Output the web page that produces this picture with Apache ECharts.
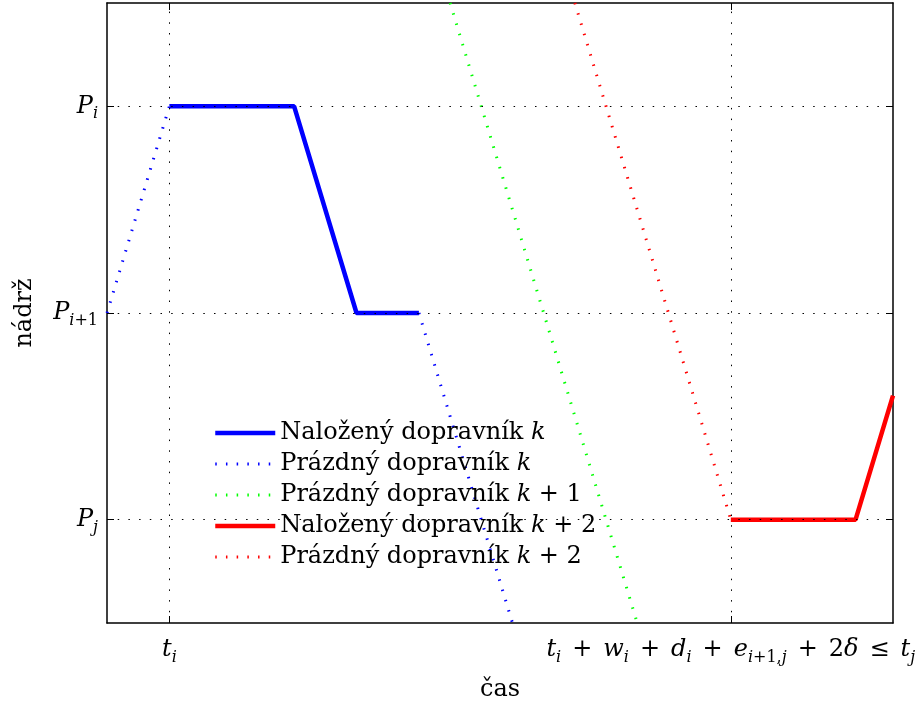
<!DOCTYPE html>
<html>
<head>
<meta charset="utf-8">
<script src="https://cdn.jsdelivr.net/npm/echarts@6/dist/echarts.min.js"></script>
<style>
  html, body { margin: 0; padding: 0; background: #fff; }
  #main { width: 922px; height: 704px; }
</style>
</head>
<body>
<div id="main"></div>
<script>
// osy: čas (x) a nádrž (y)
var xMin = 0, xMax = 12.6;
var yMin = 0, yMax = 6;
var xTicks = [1, 10];
var yTicks = [1, 3, 5];
var xTickLabels = [
  "{it|t}{sub|i}",
  "{it|t}{sub|i}{op|+}{it|w}{sub|i}{op|+}{it|d}{sub|i}{op|+}{it|e}{sub|i}{subr|+1,}{sub|j}{op|+}{r|2}{it|δ}{op|≤}{it|t}{sub|j}"
];
var yTickLabels = ["{it|P}{sub|j}", "{it|P}{sub|i}{subr|+1}", "{it|P}{sub|i}"];

// jednotlivé dopravníky
var loadedK = [[1, 5], [3, 5], [4, 3], [5, 3]];
var emptyKa = [[0, 3], [1, 5]];
var emptyKb = [[5, 3], [6.5, 0]];
var emptyK1 = [[5.5, 6], [8.5, 0]];
var loadedK2 = [[10, 1], [12, 1], [12.6, 2.2]];
var emptyK2 = [[7.5, 6], [10, 1]];

var names = [
  "Naložený dopravník k",
  "Prázdný dopravník k",
  "Prázdný dopravník k + 1",
  "Naložený dopravník k + 2",
  "Prázdný dopravník k + 2"
];
var legendLabels = [
  "Naložený dopravník {it|k}",
  "Prázdný dopravník {it|k}",
  "Prázdný dopravník {it|k}{r| + 1}",
  "Naložený dopravník {it|k}{r| + 2}",
  "Prázdný dopravník {it|k}{r| + 2}"
];

var FONT = "DejaVu Serif";
var FS = 24;
var rich = {
  it: { fontFamily: FONT, fontStyle: "italic", fontSize: FS, lineHeight: 32, color: "#000" },
  r: { fontFamily: FONT, fontSize: FS, lineHeight: 32, color: "#000" },
  op: { fontFamily: FONT, fontSize: FS, lineHeight: 32, color: "#000", padding: [0, 11, 0, 11] },
  sub: { fontFamily: FONT, fontStyle: "italic", fontSize: 16, lineHeight: 18, verticalAlign: "bottom", color: "#000" },
  subr: { fontFamily: FONT, fontSize: 16, lineHeight: 18, verticalAlign: "bottom", color: "#000" }
};

var dotted = [1.5, 9.2];

function solid(name, data, color) {
  return {
    name: name, type: "line", data: data, symbol: "none", z: 3,
    lineStyle: { color: color, width: 4.5 }, itemStyle: { color: color }
  };
}
function dots(name, data, color) {
  return {
    name: name, type: "line", data: data, symbol: "none", z: 3,
    lineStyle: { color: color, width: 3, type: dotted, cap: "butt" }, itemStyle: { color: color }
  };
}

function axisX(pos, showLabel) {
  return {
    type: "value", position: pos, min: xMin, max: xMax,
    axisLine: { onZero: false, lineStyle: { color: "#000", width: 1.5 } },
    axisTick: { inside: true, length: 7, customValues: xTicks, lineStyle: { color: "#000" } },
    axisLabel: {
      show: showLabel, customValues: xTicks, margin: 11, rich: rich,
      formatter: function (v) { return xTickLabels[xTicks.indexOf(v)]; }
    },
    splitLine: { show: false }
  };
}
function axisY(pos, showLabel) {
  return {
    type: "value", position: pos, min: yMin, max: yMax,
    axisLine: { onZero: false, lineStyle: { color: "#000", width: 1.5 } },
    axisTick: { inside: true, length: 7, customValues: yTicks, lineStyle: { color: "#000" } },
    axisLabel: {
      show: showLabel, customValues: yTicks, margin: 9, rich: rich,
      formatter: function (v) { return yTickLabels[yTicks.indexOf(v)]; }
    },
    splitLine: { show: false }
  };
}

var xBottom = axisX("bottom", true);
xBottom.name = "čas";
xBottom.nameLocation = "middle";
xBottom.nameGap = 55;
xBottom.nameTextStyle = { fontFamily: FONT, fontSize: FS, color: "#000" };
var yLeft = axisY("left", true);
yLeft.name = "nádrž";
yLeft.nameLocation = "middle";
yLeft.nameGap = 70;
yLeft.nameTextStyle = { fontFamily: FONT, fontSize: FS, color: "#000" };

var gridLines = xTicks.map(function (v) { return { xAxis: v }; })
  .concat(yTicks.map(function (v) { return { yAxis: v }; }));

var myChart = echarts.init(document.getElementById("main"));
var option = {
  animation: false,
  backgroundColor: "#fff",
  grid: { left: 107, right: 29, top: 3, bottom: 81, outerBoundsMode: "none" },
  xAxis: [xBottom, axisX("top", false)],
  yAxis: [yLeft, axisY("right", false)],
  legend: {
    data: names,
    orient: "vertical",
    left: 213, top: 420,
    padding: 0,
    itemWidth: 60, itemHeight: 12, itemGap: 5,
    selectedMode: false,
    itemStyle: { opacity: 0 },
    lineStyle: { width: "inherit" },
    formatter: function (n) { return legendLabels[names.indexOf(n)]; },
    textStyle: { fontFamily: FONT, fontSize: FS, lineHeight: 26, color: "#000", rich: {
      it: { fontFamily: FONT, fontStyle: "italic", fontSize: FS, lineHeight: 26, color: "#000" },
      r: { fontFamily: FONT, fontSize: FS, lineHeight: 26, color: "#000" }
    } }
  },
  series: [
    {
      name: "mřížka", type: "line", data: [], z: 1, silent: true,
      markLine: {
        silent: true, symbol: ["none", "none"], label: { show: false },
        lineStyle: { color: "#000", width: 1, type: dotted },
        data: gridLines
      }
    },
    solid(names[0], loadedK, "#0000ff"),
    dots(names[1], emptyKa, "#0000ff"),
    dots(names[1], emptyKb, "#0000ff"),
    dots(names[2], emptyK1, "#00ff00"),
    solid(names[3], loadedK2, "#ff0000"),
    dots(names[4], emptyK2, "#ff0000")
  ]
};
myChart.setOption(option);
</script>
</body>
</html>
